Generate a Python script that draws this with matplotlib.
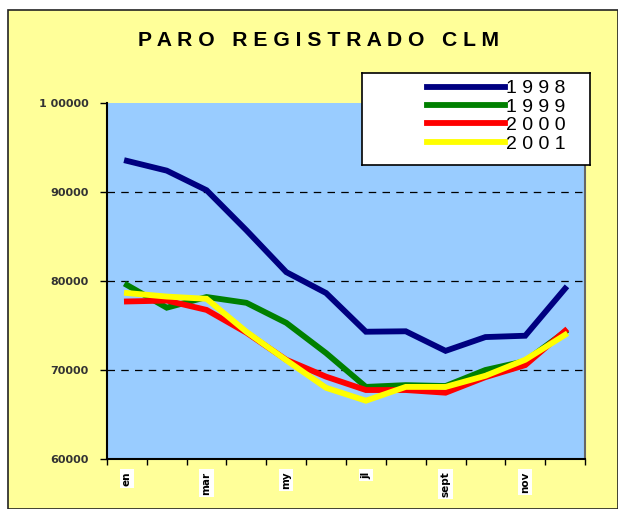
import matplotlib
matplotlib.use('Agg')
import matplotlib.pyplot as plt
import numpy as np

# datos (paro registrado por mes)
months = ['en', 'feb', 'mar', 'abr', 'my', 'jun', 'jl', 'ag', 'sept', 'oct', 'nov', 'dic']
shown_labels = ['en', 'mar', 'my', 'jl', 'sept', 'nov']
years = ['1998', '1999', '2000', '2001']
paro_1998 = [93500, 92400, 90200, 85700, 81000, 78650, 74300, 74350, 72150, 73700, 73850, 79150]
paro_1999 = [79550, 77000, 78200, 77550, 75300, 71900, 68100, 68300, 68200, 70000, 71000, 74300]
paro_2000 = [77700, 77800, 76750, 74200, 71150, 69250, 67750, 67750, 67450, 69200, 70550, 74400]
paro_2001 = [78650, 78250, 78000, 74300, 71100, 68000, 66550, 68100, 68100, 69350, 71150, 73950]
colors = ['#000080', '#008000', '#FF0000', '#FFFF00']
yticks = [60000, 70000, 80000, 90000, 100000]
ytick_labels = ['60000', '70000', '80000', '90000', '1 00000']

W, H = 618, 509
fig = plt.figure(figsize=(W / 100, H / 100), dpi=100)
fig.patch.set_facecolor('white')

# fondo amarillo con borde
bg = plt.Rectangle((8 / W, 0), 1 - 8 / W, 1 - 10 / H, transform=fig.transFigure,
                   facecolor='#FFFF99', edgecolor='#222222', linewidth=1.2, zorder=-10)
fig.add_artist(bg)

ax = fig.add_axes([107 / W, 1 - 459 / H, 478 / W, 356 / H])
ax.set_facecolor('#99CCFF')

x = np.arange(len(months))
series = [paro_1998, paro_1999, paro_2000, paro_2001]
lines = []
for vals, c, yr in zip(series, colors, years):
    ln, = ax.plot(x, vals, color=c, linewidth=4.2, solid_joinstyle='miter', label=' '.join(yr))
    lines.append(ln)

ax.set_xlim(-0.5, len(months) - 0.5)
ax.set_ylim(60000, 100000)
ax.set_yticks(yticks)
ax.set_yticklabels(ytick_labels, fontsize=8, fontweight='bold', color='#333333',
                   family='DejaVu Sans')
ax.tick_params(axis='y', direction='out', length=5, width=1, pad=8)
for yv in yticks[1:-1]:
    ax.axhline(yv, color='black', linestyle=(0, (6, 5)), linewidth=0.9, zorder=1)

ax.set_xticks(np.arange(-0.5, len(months), 1.0))
ax.set_xticklabels([])
ax.tick_params(axis='x', which='major', direction='out', length=4, width=1)
ax.set_xticks(x[::2], minor=True)
ax.set_xticklabels(shown_labels, minor=True, rotation=90, fontsize=7.5,
                   fontweight='bold', va='top', family='DejaVu Sans')
ax.tick_params(axis='x', which='minor', length=0, pad=9)
for lbl in ax.get_xticklabels(minor=True):
    lbl.set_bbox(dict(facecolor='white', edgecolor='none', pad=1.5))

for s in ['left', 'bottom']:
    ax.spines[s].set_linewidth(1.5)
ax.spines['top'].set_visible(False)
ax.spines['right'].set_color('#666666')
ax.spines['right'].set_linewidth(1.5)

fig.text(318 / W, 1 - 40 / H, 'P A R O   R E G I S T R A D O   C L M', ha='center',
         va='center', fontsize=15.2, fontweight='bold', family='Liberation Sans')

# leyenda en caja blanca
lax = fig.add_axes([362 / W, 1 - 165 / H, 228 / W, 92 / H])
lax.set_facecolor('white')
lax.set_xticks([])
lax.set_yticks([])
for s in lax.spines.values():
    s.set_linewidth(1.2)
leg = lax.legend(lines, [ln.get_label() for ln in lines], loc='upper left',
                 bbox_to_anchor=(57 / 228, 1.01), frameon=False,
                 handlelength=4.0, handletextpad=0.1, labelspacing=0.04,
                 borderaxespad=0, prop={'family': 'Liberation Sans', 'size': 14})
for h in leg.get_lines():
    h.set_linewidth(4.2)

fig.savefig('out.png', dpi=100, facecolor=fig.get_facecolor())
